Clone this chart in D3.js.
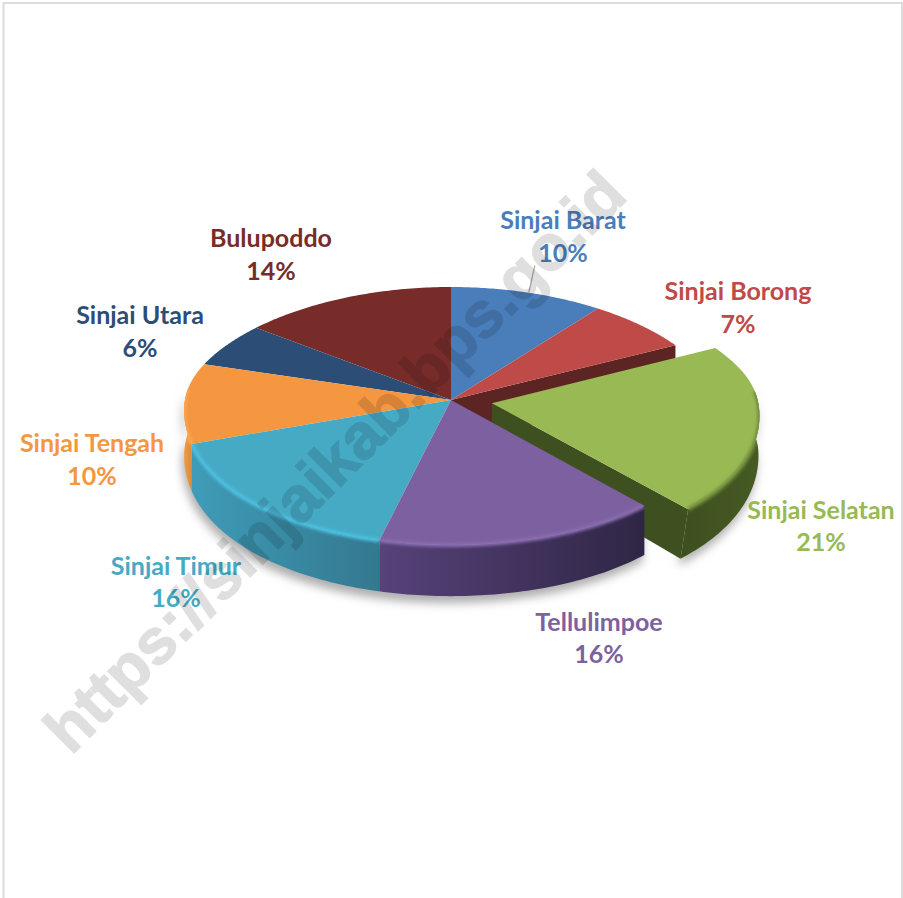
<!DOCTYPE html>
<html lang="en">

<head>
    <meta charset="UTF-8">
    <title>Sinjai pie</title>
    <script src="https://cdn.jsdelivr.net/npm/d3@7"></script>
    <style>
        * {
            margin: 0;
            padding: 0;
        }

        body {
            background: #fff;
        }

        svg {
            display: block;
        }
    </style>
</head>

<body>
    <script>
        const names = ["Sinjai Barat", "Sinjai Borong", "Sinjai Selatan", "Tellulimpoe", "Sinjai Timur", "Sinjai Tengah", "Sinjai Utara", "Bulupoddo"];
        const values = [10, 7, 21, 16, 16, 10, 6, 14];
        const topColors = ["#4a7ebb", "#be4b48", "#98b954", "#7d60a0", "#46aac5", "#f59640", "#2c4d75", "#772c2a"];
        const labelColors = ["#4a7ebb", "#be4b48", "#98b954", "#7d60a0", "#46aac5", "#f59640", "#2c4d75", "#772c2a"];
        // wall colour at the left and right end of each slice
        const wallLeft = ["#3a5f8c", "#5c2422", "#3f5020", "#57427a", "#3f9cb8", "#f09a44", "#1f3a5a", "#5a2120"];
        const wallRight = ["#3a5f8c", "#5c2422", "#465a23", "#2f2645", "#33788f", "#e08a35", "#1f3a5a", "#5a2120"];
        const rimColors = ["#4a7ebb", "#be4b48", "#6f8a3b", "#8a6db0", "#4cc0df", "#fba552", "#2c4d75", "#772c2a"];

        // label centres and baselines, first line / second line
        const labelX = [563, 738, 821, 599, 176, 92, 140, 271];
        const labelY1 = [229, 300, 519, 631, 575, 452, 324, 247];
        const labelY2 = [262, 333, 551, 663, 607, 485, 357, 280];

        const width = 903;
        const height = 898;
        const cx = 451, cy = 400;
        const Rx = 266, depth = 45;
        const kx = 0.08, ky = 0.12;
        const explodeIndex = 2, explode = 0.155;

        const svg = d3.select("body").append("svg").attr("width", width).attr("height", height);
        const defs = svg.append("defs");
        defs.append("filter").attr("id", "soft").attr("x", "-20%").attr("y", "-20%").attr("width", "140%").attr("height", "140%")
            .append("feGaussianBlur").attr("stdDeviation", 1.6);
        defs.append("filter").attr("id", "shadow").attr("x", "-20%").attr("y", "-20%").attr("width", "140%").attr("height", "140%")
            .append("feGaussianBlur").attr("stdDeviation", 5);

        // frame of the original screenshot
        svg.append("path").attr("d", `M3.5,${height}V3H902V${height}`)
            .attr("fill", "none").attr("stroke", "#dcdcdc").attr("stroke-width", 2);

        const arcs = d3.pie().sort(null).value(d => d).startAngle(0).endAngle(2 * Math.PI)(values);

        // vertical radius is shorter behind the centre than in front of it
        const radiusY = Y => 129 - 16 * Math.tanh(4 * Y);

        // perspective view of a point on the disc, z=0 is the top face and z=1 the bottom
        const project = (a, r, z, i) => {
            const off = i === explodeIndex ? explode : 0;
            const mid = (arcs[i].startAngle + arcs[i].endAngle) / 2;
            const X = r * Math.sin(a) + off * Math.sin(mid);
            const Y = r * Math.cos(a) + off * Math.cos(mid);
            const lean = i === explodeIndex ? 10 * z * Math.max(0, -Y) : 0;
            return [
                cx + Rx * X / (1 + kx * Y) - lean,
                cy - radiusY(Y) * Y + depth * z / (1 + ky * Y)
            ];
        };

        const line = d3.line();
        const sweep = (a0, a1) => d3.range(0, 61).map(k => a0 + (a1 - a0) * k / 60);
        const topPoints = i => [project(0, 0, 0, i)].concat(sweep(arcs[i].startAngle, arcs[i].endAngle).map(a => project(a, 1, 0, i)));
        const rimPoints = (i, a0, a1, z) => sweep(a0, a1).map(a => project(a, 1, z, i));

        const visFrom = Math.PI * 0.47, visTo = Math.PI * 1.53;
        const hasWall = i => arcs[i].endAngle > visFrom && arcs[i].startAngle < visTo;
        const wallPath = i => {
            const a0 = Math.max(arcs[i].startAngle, visFrom);
            const a1 = Math.min(arcs[i].endAngle, visTo);
            return line(rimPoints(i, a0, a1, 0).concat(rimPoints(i, a0, a1, 1).reverse())) + "Z";
        };

        // ground shadow
        const g = svg.append("g");
        g.append("g").attr("filter", "url(#shadow)").attr("transform", "translate(-2,7)")
            .selectAll("path")
            .data(d3.range(values.length).filter(hasWall))
            .join("path")
            .attr("d", wallPath)
            .attr("fill", "#adadad");

        // wall gradients run across the slice, rim highlight stays inside the slice
        d3.range(values.length).filter(hasWall).forEach(i => {
            const a0 = Math.max(arcs[i].startAngle, visFrom);
            const a1 = Math.min(arcs[i].endAngle, visTo);
            const xs = d3.extent(rimPoints(i, a0, a1, 0), p => p[0]);
            const grad = defs.append("linearGradient").attr("id", "wall" + i)
                .attr("gradientUnits", "userSpaceOnUse")
                .attr("x1", xs[0]).attr("x2", xs[1]).attr("y1", 0).attr("y2", 0);
            grad.append("stop").attr("offset", 0).attr("stop-color", wallLeft[i]);
            grad.append("stop").attr("offset", 1).attr("stop-color", wallRight[i]);
            const clip = defs.append("clipPath").attr("id", "clip" + i);
            clip.append("path").attr("d", line(topPoints(i)) + "Z");
            clip.append("path").attr("d", wallPath(i));
        });

        const drawWall = i => {
            g.append("path").attr("d", wallPath(i)).attr("fill", `url(#wall${i})`);
        };
        const drawCut = (i, a, color) => {
            const pts = [project(0, 0, 0, i), project(a, 1, 0, i), project(a, 1, 1, i), project(0, 0, 1, i)];
            g.append("path").attr("d", line(pts) + "Z").attr("fill", color);
        };
        const drawTop = i => {
            g.append("path").attr("d", line(topPoints(i)) + "Z").attr("fill", topColors[i]);
        };
        const drawRim = i => {
            const a0 = Math.max(arcs[i].startAngle, visFrom);
            const a1 = Math.min(arcs[i].endAngle, visTo);
            g.append("g").attr("clip-path", `url(#clip${i})`)
                .append("path").attr("d", line(rimPoints(i, a0, a1, 0)))
                .attr("fill", "none").attr("stroke", rimColors[i]).attr("stroke-width", 4)
                .attr("filter", "url(#soft)");
        };

        // painter's order: cut face behind the exploded slice first, the exploded slice, then the rest
        drawCut(1, arcs[1].endAngle, wallLeft[1]);
        drawTop(0);
        drawTop(1);
        drawCut(explodeIndex, arcs[explodeIndex].endAngle, wallLeft[explodeIndex]);
        drawWall(explodeIndex);
        drawTop(explodeIndex);
        drawRim(explodeIndex);
        [5, 4, 3].forEach(drawWall);
        [7, 6, 5, 4, 3].forEach(drawTop);
        [5, 4, 3].forEach(drawRim);

        // labels
        const labels = svg.append("g")
            .attr("font-family", "Lato, Carlito, sans-serif")
            .attr("font-weight", 700)
            .attr("font-size", 25)
            .attr("text-anchor", "middle");
        labels.selectAll("text.name").data(names).join("text")
            .attr("class", "name")
            .attr("x", (d, i) => labelX[i])
            .attr("y", (d, i) => labelY1[i])
            .attr("fill", (d, i) => labelColors[i])
            .text(d => d);
        labels.selectAll("text.pct").data(values).join("text")
            .attr("class", "pct")
            .attr("x", (d, i) => labelX[i])
            .attr("y", (d, i) => labelY2[i])
            .attr("fill", (d, i) => labelColors[i])
            .text(d => d + "%");

        // leader line of the first label
        const leaderEnd = project(arcs[0].startAngle + 0.32, 1, 0, 0);
        svg.append("path")
            .attr("d", line([[leaderEnd[0] + 6, leaderEnd[1] - 27], [leaderEnd[0], leaderEnd[1]]]))
            .attr("stroke", "#a6a6a6").attr("stroke-width", 1.2).attr("fill", "none");

        // watermark
        svg.append("text")
            .attr("transform", "translate(71,756) rotate(-45)")
            .attr("font-family", "Liberation Sans, Arial, sans-serif")
            .attr("font-weight", 700)
            .attr("font-size", 64)
            .attr("fill", "#000")
            .attr("stroke", "#000")
            .attr("stroke-width", 1.5)
            .attr("opacity", 0.12)
            .text("https://sinjaikab.bps.go.id");
    </script>
</body>

</html>
